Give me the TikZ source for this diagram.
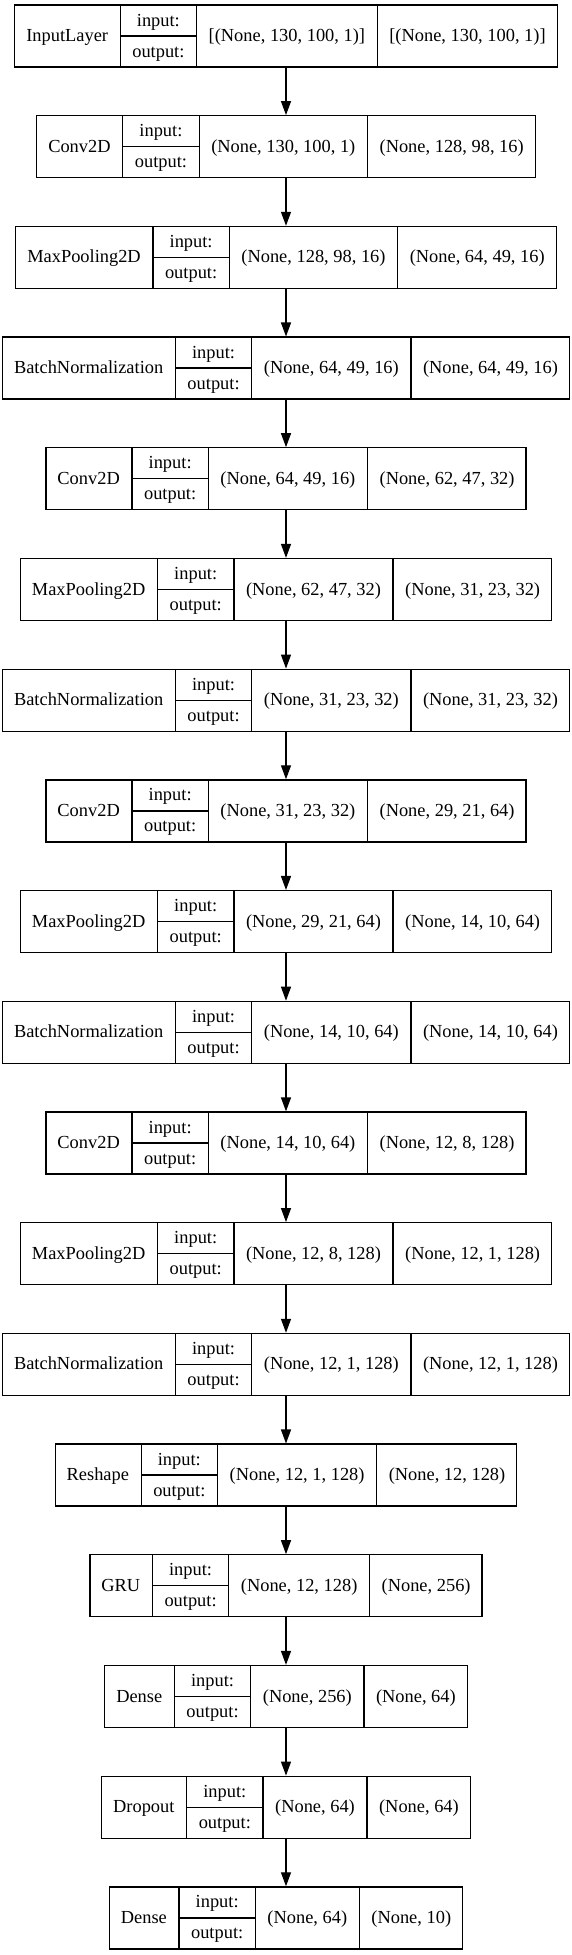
\documentclass[tikz,border=0pt]{standalone}
\usepackage{fontspec}
\setmainfont{Liberation Serif}
\usepackage{tikz}
\usetikzlibrary{shapes.multipart,arrows.meta}

\newcommand{\rowstrut}{\rule[-10pt]{0pt}{31pt}}
\newcommand{\inout}{\rowstrut input:\\\rowstrut output:}

\begin{document}
\begin{tikzpicture}
  [x=1pt,y=1pt,line width=1.25pt,
   every node/.style={rectangle split,rectangle split horizontal,rectangle split parts=4,
     draw,inner xsep=11.5pt,inner ysep=0pt,align=center,font=\fontsize{18.4}{31}\selectfont}]
  \useasboundingbox (0,0) rectangle (571,-1955);
  \node (inp) at (286,-36)        {\rowstrut InputLayer\nodepart{two}\inout\nodepart{three}\rowstrut[(None, 130, 100, 1)]\nodepart{four}\rowstrut[(None, 130, 100, 1)]};
  \node (conv1) at (286,-146.7)   {\rowstrut Conv2D\nodepart{two}\inout\nodepart{three}\rowstrut(None, 130, 100, 1)\nodepart{four}\rowstrut(None, 128, 98, 16)};
  \node (pool1) at (286,-257.4)   {\rowstrut MaxPooling2D\nodepart{two}\inout\nodepart{three}\rowstrut(None, 128, 98, 16)\nodepart{four}\rowstrut(None, 64, 49, 16)};
  \node (bn1) at (286,-368.1)     {\rowstrut BatchNormalization\nodepart{two}\inout\nodepart{three}\rowstrut(None, 64, 49, 16)\nodepart{four}\rowstrut(None, 64, 49, 16)};
  \node (conv2) at (286,-478.8)   {\rowstrut Conv2D\nodepart{two}\inout\nodepart{three}\rowstrut(None, 64, 49, 16)\nodepart{four}\rowstrut(None, 62, 47, 32)};
  \node (pool2) at (286,-589.5)   {\rowstrut MaxPooling2D\nodepart{two}\inout\nodepart{three}\rowstrut(None, 62, 47, 32)\nodepart{four}\rowstrut(None, 31, 23, 32)};
  \node (bn2) at (286,-700.2)     {\rowstrut BatchNormalization\nodepart{two}\inout\nodepart{three}\rowstrut(None, 31, 23, 32)\nodepart{four}\rowstrut(None, 31, 23, 32)};
  \node (conv3) at (286,-810.9)   {\rowstrut Conv2D\nodepart{two}\inout\nodepart{three}\rowstrut(None, 31, 23, 32)\nodepart{four}\rowstrut(None, 29, 21, 64)};
  \node (pool3) at (286,-921.6)   {\rowstrut MaxPooling2D\nodepart{two}\inout\nodepart{three}\rowstrut(None, 29, 21, 64)\nodepart{four}\rowstrut(None, 14, 10, 64)};
  \node (bn3) at (286,-1032.3)    {\rowstrut BatchNormalization\nodepart{two}\inout\nodepart{three}\rowstrut(None, 14, 10, 64)\nodepart{four}\rowstrut(None, 14, 10, 64)};
  \node (conv4) at (286,-1143)    {\rowstrut Conv2D\nodepart{two}\inout\nodepart{three}\rowstrut(None, 14, 10, 64)\nodepart{four}\rowstrut(None, 12, 8, 128)};
  \node (pool4) at (286,-1253.7)  {\rowstrut MaxPooling2D\nodepart{two}\inout\nodepart{three}\rowstrut(None, 12, 8, 128)\nodepart{four}\rowstrut(None, 12, 1, 128)};
  \node (bn4) at (286,-1364.4)    {\rowstrut BatchNormalization\nodepart{two}\inout\nodepart{three}\rowstrut(None, 12, 1, 128)\nodepart{four}\rowstrut(None, 12, 1, 128)};
  \node (reshape) at (286,-1475.1){\rowstrut Reshape\nodepart{two}\inout\nodepart{three}\rowstrut(None, 12, 1, 128)\nodepart{four}\rowstrut(None, 12, 128)};
  \node (gru) at (286,-1585.8)    {\rowstrut GRU\nodepart{two}\inout\nodepart{three}\rowstrut(None, 12, 128)\nodepart{four}\rowstrut(None, 256)};
  \node (dense1) at (286,-1696.5) {\rowstrut Dense\nodepart{two}\inout\nodepart{three}\rowstrut(None, 256)\nodepart{four}\rowstrut(None, 64)};
  \node (drop) at (286,-1807.2)   {\rowstrut Dropout\nodepart{two}\inout\nodepart{three}\rowstrut(None, 64)\nodepart{four}\rowstrut(None, 64)};
  \node (dense2) at (286,-1917.9) {\rowstrut Dense\nodepart{two}\inout\nodepart{three}\rowstrut(None, 64)\nodepart{four}\rowstrut(None, 10)};

  \foreach \n in {inp,conv1,pool1,bn1,conv2,pool2,bn2,conv3,pool3,bn3,conv4,pool4,bn4,reshape,gru,dense1,drop,dense2}
    \draw (\n.text split) -- (\n.two split);
  \foreach \from/\to in {inp/conv1,conv1/pool1,pool1/bn1,bn1/conv2,conv2/pool2,pool2/bn2,bn2/conv3,conv3/pool3,pool3/bn3,bn3/conv4,conv4/pool4,pool4/bn4,bn4/reshape,reshape/gru,gru/dense1,dense1/drop,drop/dense2}
    \draw[-{Triangle[length=14pt,width=10pt]}] (\from) -- (\to);
\end{tikzpicture}
\end{document}
